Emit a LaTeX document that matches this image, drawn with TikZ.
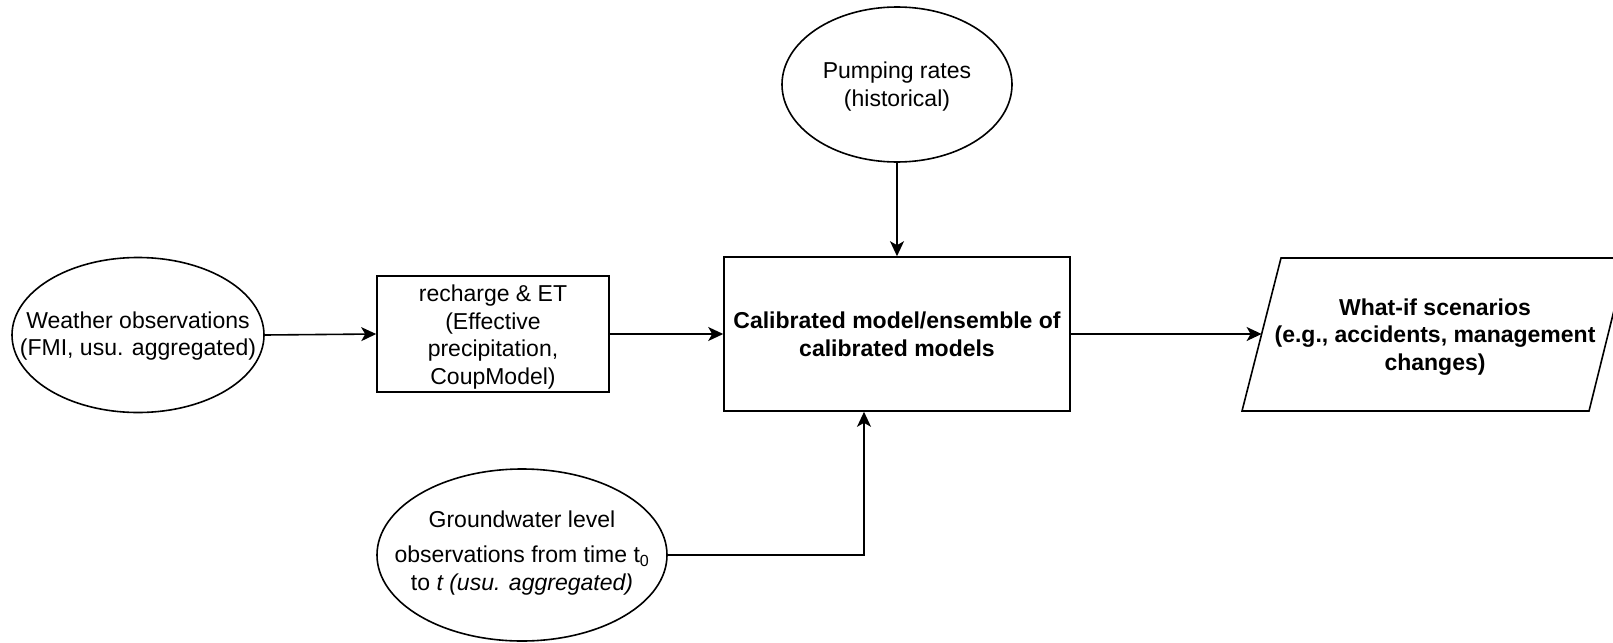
\documentclass[tikz,border=0pt]{standalone}
\usepackage{fontspec}
\setmainfont{Liberation Sans}
\usetikzlibrary{shapes.geometric,arrows.meta,calc}
\tikzset{
  shapeline/.style={draw=black, line width=1.6pt},
  oval/.style={shapeline, ellipse, inner sep=0pt},
  boxnode/.style={shapeline, rectangle, inner sep=0pt},
  txt/.style={align=center, inner sep=0pt, font=\fontsize{23pt}{27.6pt}\selectfont},
  btxt/.style={txt, font=\fontsize{23pt}{27.6pt}\selectfont\bfseries},
  conn/.style={line width=1.6pt, -{Stealth[length=15pt,width=14pt,inset=4pt]}},
}
\begin{document}
\begin{tikzpicture}[x=1pt,y=-1pt]
\useasboundingbox (0,0) rectangle (1613,642);
\clip (0,0) rectangle (1613,642);
% nodes
\node[oval, minimum width=252pt, minimum height=155pt] (weather) at (138,335) {};
\node[txt] (weathert) at ([yshift=-1pt]weather.center) {Weather observations\\(FMI, usu. aggregated)};
\node[boxnode, minimum width=232pt, minimum height=116pt] (recharge) at (493,334) {};
\node[txt] (recharget) at ([yshift=-3pt]recharge.center) {recharge \& ET\\(Effective\\precipitation,\\CoupModel)};
\node[boxnode, minimum width=346pt, minimum height=154pt, btxt] (calib) at (897,334) {Calibrated model/ensemble of\\calibrated models};
\node[oval, minimum width=230pt, minimum height=155pt] (pump) at (897,84.5) {};
\node[txt] (pumpt) at ([yshift=-2pt]pump.center) {Pumping rates\\(historical)};
\node[oval, minimum width=290pt, minimum height=172pt] (gw) at (522,555) {};
\node[txt] (gwt) at ([yshift=2pt]gw.center) {Groundwater level\\[8pt]observations from time t\textsubscript{0}\\to \textit{t (usu. aggregated)}};
% what-if parallelogram
\coordinate (wbl) at (1242,411);
\coordinate (wtl) at (1281,258);
\coordinate (wtr) at (1627,258);
\coordinate (wbr) at (1589,411);
\draw[shapeline, line join=miter] (wbl) -- (wtl) -- (wtr) -- (wbr) -- cycle;
\node[btxt] (whatif) at (1435,337) {What-if scenarios\\(e.g., accidents, management\\changes)};
\coordinate (whatifin) at (1261.6,334);
% connectors
\draw[conn] (weather.east) -- (recharge.west);
\draw[conn] (recharge.east) -- (calib.west);
\draw[conn] (calib.east) -- (whatifin);
\draw[conn] (pump.south) -- (calib.north);
\draw[conn] (gw.east) -| ([xshift=-33pt]calib.south);
\end{tikzpicture}
\end{document}
